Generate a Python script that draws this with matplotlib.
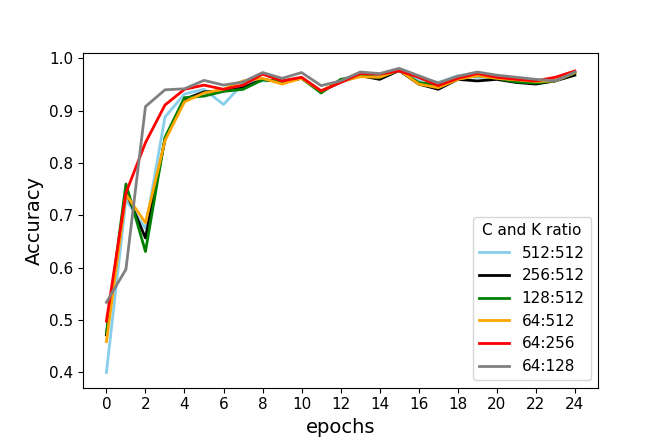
import matplotlib
matplotlib.use("Agg")
import matplotlib.pyplot as plt

epochs = list(range(25))

# accuracy per epoch for each C:K ratio
acc_512_512 = [0.400, 0.730, 0.675, 0.888, 0.932, 0.941, 0.912, 0.952, 0.957, 0.958, 0.962, 0.937,
               0.956, 0.968, 0.966, 0.978, 0.960, 0.954, 0.967, 0.964, 0.964, 0.958, 0.956, 0.957, 0.975]
acc_256_512 = [0.472, 0.745, 0.657, 0.845, 0.922, 0.936, 0.938, 0.944, 0.960, 0.955, 0.962, 0.937,
               0.955, 0.967, 0.960, 0.977, 0.951, 0.941, 0.960, 0.957, 0.960, 0.954, 0.951, 0.957, 0.968]
acc_128_512 = [0.475, 0.760, 0.631, 0.849, 0.925, 0.928, 0.937, 0.941, 0.959, 0.956, 0.962, 0.934,
               0.960, 0.967, 0.964, 0.977, 0.954, 0.949, 0.961, 0.967, 0.962, 0.955, 0.953, 0.957, 0.972]
acc_64_512 = [0.459, 0.740, 0.686, 0.843, 0.917, 0.934, 0.941, 0.957, 0.962, 0.951, 0.962, 0.938,
              0.956, 0.965, 0.964, 0.978, 0.951, 0.944, 0.960, 0.967, 0.962, 0.959, 0.956, 0.957, 0.973]
acc_64_256 = [0.498, 0.743, 0.839, 0.911, 0.941, 0.949, 0.941, 0.949, 0.970, 0.957, 0.964, 0.938,
              0.954, 0.971, 0.970, 0.976, 0.964, 0.948, 0.962, 0.971, 0.964, 0.960, 0.957, 0.964, 0.976]
acc_64_128 = [0.534, 0.597, 0.908, 0.940, 0.942, 0.958, 0.949, 0.955, 0.973, 0.962, 0.973, 0.948,
              0.957, 0.974, 0.971, 0.981, 0.967, 0.953, 0.966, 0.974, 0.968, 0.964, 0.960, 0.957, 0.974]

labels = ["512:512", "256:512", "128:512", "64:512", "64:256", "64:128"]
colors = ["skyblue", "black", "green", "orange", "red", "grey"]
series = [acc_512_512, acc_256_512, acc_128_512, acc_64_512, acc_64_256, acc_64_128]

fig = plt.figure(figsize=(6.64, 4.43), dpi=100)
ax = fig.add_axes([0.125, 0.125, 0.776, 0.755])

for vals, lab, col in zip(series, labels, colors):
    ax.plot(epochs, vals, color=col, linewidth=2, label=lab)

ax.set_xticks(range(0, 25, 2))
ax.tick_params(labelsize=11)
ax.set_xlabel("epochs", fontsize=14)
ax.set_ylabel("Accuracy", fontsize=14)
ax.legend(title="C and K ratio", loc="lower right", fontsize=11, title_fontsize=11)

fig.savefig("out.png", dpi=100)
